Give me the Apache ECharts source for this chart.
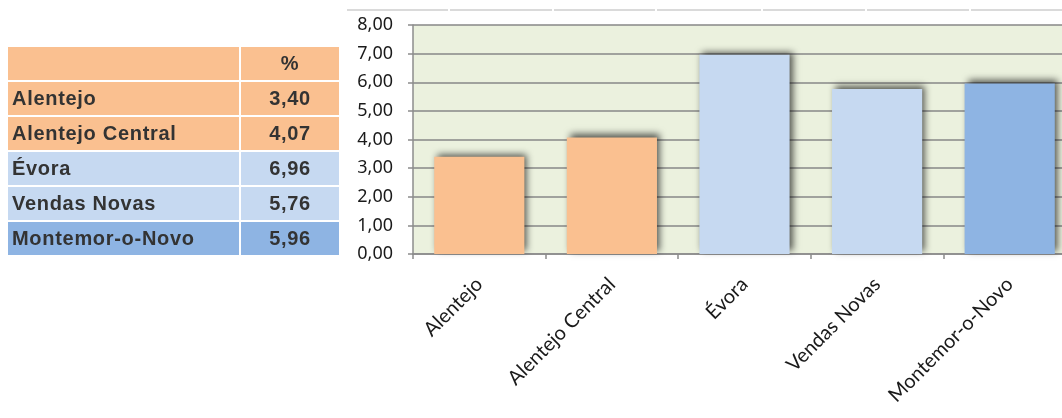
<!DOCTYPE html>
<html>
<head>
<meta charset="utf-8">
<script src="https://cdn.jsdelivr.net/npm/echarts@6/dist/echarts.min.js"></script>
<style>
html,body{margin:0;padding:0;background:#fff;}
#wrap{position:relative;width:1062px;height:418px;overflow:hidden;}
#chart{position:absolute;left:0;top:0;width:1090px;height:418px;}
#tbl{position:absolute;left:8px;top:47px;width:331px;display:grid;grid-template-columns:231px 98px;grid-auto-rows:33px;gap:2px;font-family:"Liberation Sans",Arial,sans-serif;font-weight:bold;font-size:20px;letter-spacing:0.7px;color:#333;}
#tbl div{display:flex;align-items:center;}
#tbl .n{padding-left:4px;}
#tbl .v{justify-content:center;}
</style>
</head>
<body>
<div id="wrap">
<div id="chart"></div>
<div id="tbl"></div>
</div>
<script>
const categories = ['Alentejo', 'Alentejo Central', 'Évora', 'Vendas Novas', 'Montemor-o-Novo'];
const values = [3.40, 4.07, 6.96, 5.76, 5.96];
const headerLabel = '%';
const barColors = ['#FAC090', '#FAC090', '#C6D9F1', '#C6D9F1', '#8EB4E3'];

const fmt = v => v.toFixed(2).replace('.', ',');

// table
const tbl = document.getElementById('tbl');
function cell(text, cls, color) {
  const d = document.createElement('div');
  d.className = cls;
  d.style.background = color;
  d.textContent = text;
  tbl.appendChild(d);
}
cell('', 'n', '#FAC090');
cell(headerLabel, 'v', '#FAC090');
categories.forEach((c, i) => {
  cell(c, 'n', barColors[i]);
  cell(fmt(values[i]), 'v', barColors[i]);
});

// decorative sheet lines at top
const segs = [[347,448],[450,552],[554,655],[657,761],[763,865],[867,969],[971,1090]];
const chart = echarts.init(document.getElementById('chart'));
chart.setOption({
  animation: false,
  graphic: segs.map(s => ({
    type: 'line', shape: {x1: s[0], y1: 10, x2: s[1], y2: 10},
    style: {stroke: '#DADADA', lineWidth: 2}, silent: true
  })),
  grid: {
    left: 413, top: 25, bottom: 164, right: 14,
    show: true, backgroundColor: '#EBF1DE', borderWidth: 0,
    containLabel: false
  },
  xAxis: {
    type: 'category',
    data: categories,
    axisLine: {lineStyle: {color: '#8C8C8C', width: 1.5}},
    axisTick: {show: true, length: 5, lineStyle: {color: '#8C8C8C', width: 1.5}},
    axisLabel: {
      rotate: 45, margin: 27, interval: 0,
      color: '#1a1a1a', fontFamily: 'Lato', fontSize: 20
    }
  },
  yAxis: {
    type: 'value', min: 0, max: 8, interval: 1,
    axisLine: {show: true, lineStyle: {color: '#8C8C8C', width: 1.5}},
    axisTick: {show: true, length: 5, lineStyle: {color: '#8C8C8C', width: 1.5}},
    splitLine: {lineStyle: {color: '#878787', width: 1.5}},
    axisLabel: {
      formatter: v => fmt(v), margin: 20,
      color: '#1a1a1a', fontFamily: 'Noto Sans', fontSize: 18
    }
  },
  series: [{
    type: 'bar',
    barCategoryGap: '32%',
    data: values.map((v, i) => ({
      value: v,
      itemStyle: {
        color: barColors[i],
        shadowColor: 'rgba(0,0,0,0.65)', shadowBlur: 7,
        shadowOffsetX: 3, shadowOffsetY: -3
      }
    }))
  }]
});
</script>
</body>
</html>
